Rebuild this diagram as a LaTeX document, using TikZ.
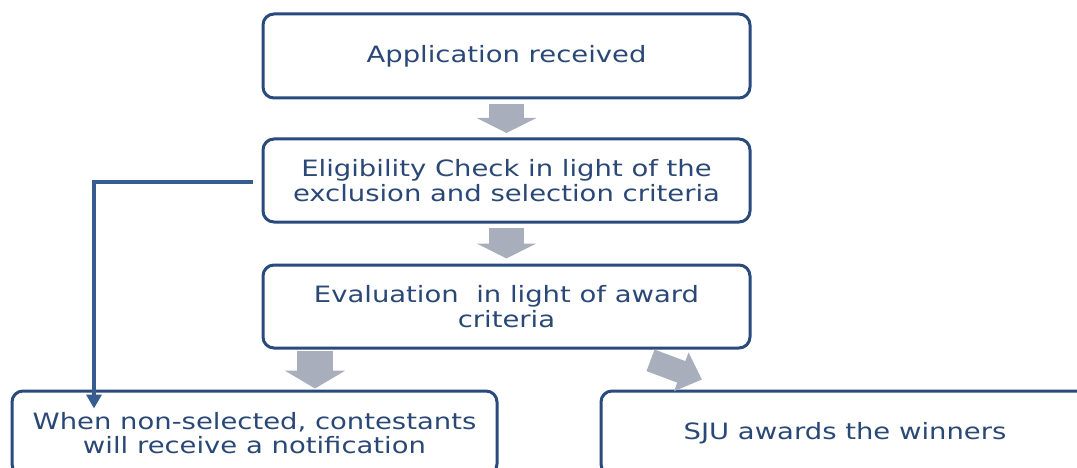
\documentclass[tikz,border=0pt]{standalone}
\usepackage{fontspec}
\setmainfont{DejaVu Sans}[FakeStretch=1.22]
\usetikzlibrary{arrows.meta}
\definecolor{boxblue}{RGB}{41,74,124}
\definecolor{txtblue}{RGB}{42,72,118}
\definecolor{lnkblue}{RGB}{54,92,144}
\definecolor{arrgray}{RGB}{169,174,189}

\begin{document}
\begin{tikzpicture}[x=1pt,y=1pt,
  stepbox/.style={draw=boxblue,line width=3pt,rounded corners=11pt,fill=white,
    minimum width=487pt,minimum height=84pt,inner sep=0pt,align=center,
    text=txtblue,font=\fontsize{22.5}{24.5}\selectfont},
  blockarrow/.style={draw=arrgray,line width=35pt,-{Triangle[width=59pt,length=15pt]}},
  link/.style={draw=lnkblue,line width=3.5pt,-{Triangle[width=15pt,length=14pt]}}]
\useasboundingbox (0,0) rectangle (1077,-468);
\clip (0,0) rectangle (1077,-468);

% the boxes
\node[stepbox] (app) at (506.5,-56) {Application received};
\node[stepbox,minimum height=83pt] (elig) at (506.5,-180.5) {Eligibility Check in light of the\\exclusion and selection criteria};
\node[stepbox,minimum height=83pt] (eval) at (506.5,-306.5) {Evaluation~ in light of award\\criteria};
\node[stepbox,minimum width=485pt] (notif) at (254.5,-433) {When non-selected, contestants\\will receive a notification};
\node[stepbox,minimum width=488pt] (award) at (845,-433) {SJU awards the winners};

% gray arrows
\draw[blockarrow,shorten <=4.5pt,shorten >=4.5pt] (app.south) -- (elig.north);
\draw[blockarrow,shorten <=4.5pt,shorten >=5pt] (elig.south) -- (eval.north);
\draw[blockarrow,line width=36pt,-{Triangle[width=60pt,length=18pt]},shorten <=1pt,shorten >=1pt]
  ([xshift=-191.5pt]eval.south) -- ([xshift=60.5pt]notif.north);
\draw[blockarrow,line width=23pt,-{Triangle[width=40pt,length=22pt]},shorten <=31pt,shorten >=28.5pt]
  (eval) -- (award);

% non-selected path
\draw[link] ([xshift=-9pt,yshift=-1.5pt]elig.west) -| ([xshift=-160.5pt,yshift=-19pt]notif.north);
\end{tikzpicture}
\end{document}
